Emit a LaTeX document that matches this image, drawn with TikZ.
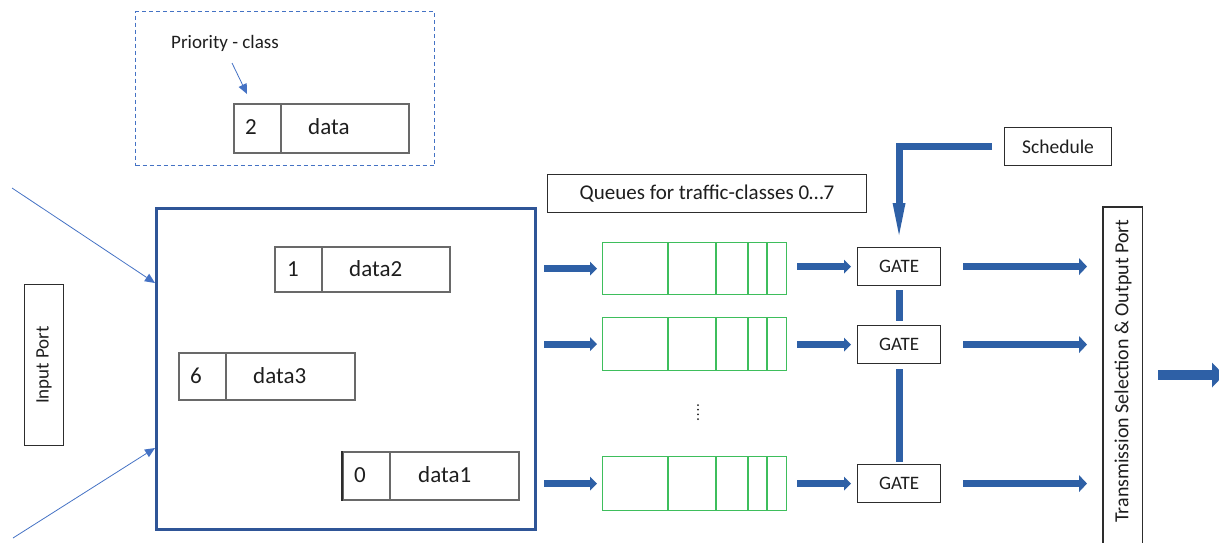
\documentclass[tikz,border=0pt]{standalone}
\usepackage{fontspec}
\setmainfont{Carlito}
\usetikzlibrary{arrows.meta,calc}
\definecolor{fatblue}{RGB}{46,96,166}
\definecolor{mainblue}{RGB}{47,85,151}
\definecolor{thinblue}{RGB}{68,114,196}
\definecolor{qgreen}{RGB}{62,190,92}
\definecolor{pktgray}{RGB}{105,105,105}
\definecolor{boxline}{RGB}{45,45,45}
\definecolor{txt}{RGB}{30,30,30}
\begin{document}
\begin{tikzpicture}[x=1pt,y=-1pt,
  box/.style={draw=boxline,line width=1.1pt,fill=white,inner sep=0pt,anchor=north west,
    text=txt,font=\fontsize{19}{21}\selectfont},
  pkt/.style={draw=pktgray,line width=1.5pt,inner sep=0pt,anchor=north west},
  pktline/.style={draw=pktgray,line width=1.5pt},
  pktxt/.style={font=\fontsize{23}{26}\selectfont,anchor=west,inner sep=0pt,text=txt},
  queue/.style={draw=qgreen,line width=1.3pt,minimum width=184pt,inner sep=0pt,anchor=north west},
  qline/.style={draw=qgreen,line width=1.3pt},
  fat/.style={draw=fatblue,line width=7pt,-{Triangle[length=8pt,width=17pt,line width=0pt]}},
  qin/.style={draw=fatblue,line width=7pt,-{Triangle[length=7pt,width=14pt,line width=0pt]}},
  thinarr/.style={draw=thinblue,line width=0.8pt,-{Triangle[length=10pt,width=9pt,line width=0pt]}},
  bar/.style={draw=fatblue,line width=7pt}]
\useasboundingbox (0,0) rectangle (1219,542);

% priority-class legend
\node[draw=thinblue,dashed,dash pattern=on 4pt off 3pt,line width=1pt,
  minimum width=299pt,minimum height=154pt,anchor=north west,inner sep=0pt] (frame) at (135,11) {};
\node[font=\fontsize{19}{22}\selectfont,anchor=west,inner sep=0pt,text=txt] (pclabel) at (171,43) {Priority - class};
\coordinate (pcfoot) at (232,63);
\node[pkt,minimum width=175pt,minimum height=49pt] (pk0) at (233,103) {};
\draw[pktline] ([xshift=48pt]pk0.north west) -- ([xshift=48pt]pk0.south west);
\node[pktxt] (pk0n) at (245,127) {2};
\node[pktxt] (pk0d) at (308,127) {data};
\draw[thinarr] (pcfoot) -- ([shift={(14pt,9pt)}]pk0.north west);

% input port and switch buffer
\node[box,minimum width=39pt,minimum height=161pt] (inport) at (24,284) {};
\node[rotate=90,font=\fontsize{19}{21}\selectfont,text=txt] (inlabel) at (inport.center) {Input Port};
\node[draw=mainblue,line width=3pt,minimum width=379pt,minimum height=321pt,
  anchor=north west,inner sep=0pt] (sw) at (155,207) {};
\coordinate (in1) at (12,188);
\coordinate (in2) at (13,538);
\draw[thinarr] (in1) -- ([yshift=-76pt]sw.north west);
\draw[thinarr] (in2) -- ([yshift=83pt]sw.south west);

% frames in the buffer
\node[pkt,minimum width=175pt,minimum height=45pt] (p1) at (274,246) {};
\draw[pktline] ([xshift=48pt]p1.north west) -- ([xshift=48pt]p1.south west);
\node[pktxt] (p1n) at (287,269) {1};
\node[pktxt] (p1d) at (349,269) {data2};
\node[pkt,minimum width=176pt,minimum height=47pt] (p2) at (178,352) {};
\draw[pktline] ([xshift=48pt]p2.north west) -- ([xshift=48pt]p2.south west);
\node[pktxt] (p2n) at (190,376) {6};
\node[pktxt] (p2d) at (253,376) {data3};
\node[pkt,minimum width=176pt,minimum height=48pt] (p3) at (342,451) {};
\draw[pktline] ([xshift=48pt]p3.north west) -- ([xshift=48pt]p3.south west);
\draw[draw=boxline,line width=2.5pt] (p3.north west) -- (p3.south west);
\node[pktxt] (p3n) at (354,475) {0};
\node[pktxt] (p3d) at (418,475) {data1};

% traffic-class queues
\node[box,minimum width=319pt,minimum height=38pt,font=\fontsize{21}{23}\selectfont] (qlabel) at (547,174) {Queues for traffic-classes 0…7};
\node[queue,minimum height=52pt] (q1) at (602,242) {};
\node[queue,minimum height=53pt] (q2) at (602,317) {};
\node[queue,minimum height=54pt] (q3) at (602,456) {};
\foreach \q in {q1,q2,q3}
  \foreach \d in {66,114,146,165}
    \draw[qline] ([xshift=\d pt]\q.north west) -- ([xshift=\d pt]\q.south west);
% column of dots standing for the omitted queues
\foreach \y in {405,409.7,414.3,419}
  \fill[txt] (698,\y) circle[radius=1pt];

% gates and schedule
\node[box,minimum width=83pt,minimum height=38pt] (g1) at (857,247) {GATE};
\node[box,minimum width=83pt,minimum height=38pt] (g2) at (857,325) {GATE};
\node[box,minimum width=83pt,minimum height=38pt] (g3) at (857,464) {GATE};
\node[box,minimum width=107pt,minimum height=38pt,font=\fontsize{19.5}{21}\selectfont] (sch) at (1004,127) {Schedule};
\draw[draw=fatblue,line width=7pt,-{Triangle[length=32pt,width=13pt,line width=0pt]}]
  ([xshift=-12pt]sch.west) -| ([yshift=12pt]g1.north);
\draw[bar] ([yshift=-4pt]g1.south) -- ([yshift=4pt]g2.north);
\draw[bar] ([yshift=-5pt]g2.south) -- ([yshift=2pt]g3.north);

% transmission selection
\node[minimum width=39pt,minimum height=341pt,anchor=north west,inner sep=0pt] (ts) at (1103,207) {};
\draw[draw=boxline,line width=1.1pt] (ts.south west) -- (ts.north west) -- (ts.north east) -- (ts.south east);
\node[rotate=90,font=\fontsize{20}{22}\selectfont,text=txt] (tslabel) at (1123,371) {Transmission Selection \& Output Port};
\coordinate (outtip) at (1224,375);
\draw[draw=fatblue,line width=10pt,-{Triangle[length=12pt,width=25pt,line width=0pt]},shorten <=16pt]
  (ts.east |- outtip) -- (outtip);

% flows between stages
\foreach \i in {1,2,3} {
  \draw[qin,shorten <=7pt,shorten >=5pt] (sw.east |- q\i.west) -- (q\i.west);
  \draw[qin,shorten <=10pt,shorten >=6pt] (q\i.east |- g\i.west) -- (g\i.west);
  \draw[fat,shorten <=22pt,shorten >=16pt] (g\i.east) -- (g\i.east -| ts.west);
}
\end{tikzpicture}
\end{document}
